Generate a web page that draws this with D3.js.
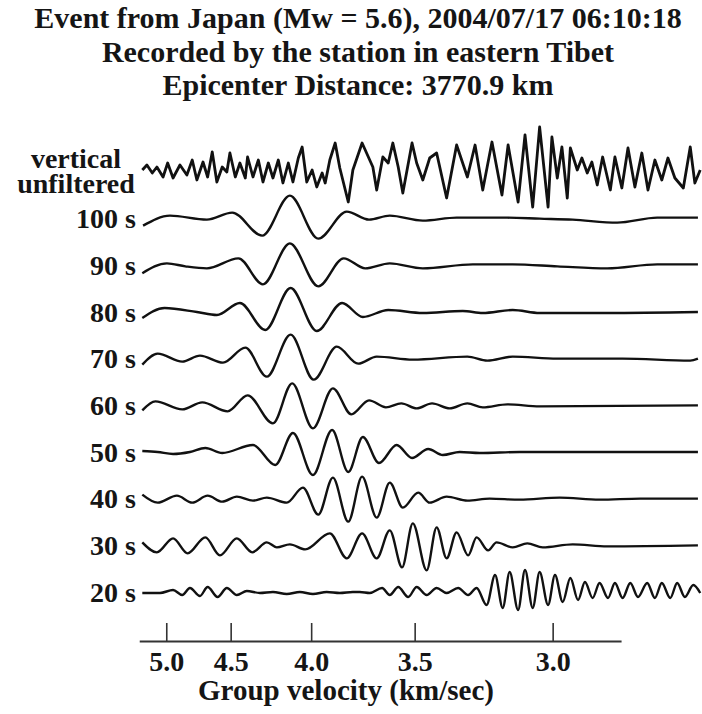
<!DOCTYPE html>
<html>
<head>
<meta charset="utf-8">
<script src="https://cdn.jsdelivr.net/npm/d3@7"></script>
<style>
  body { margin: 0; background: #fff; }
  svg text { font-family: "Liberation Serif", "Times New Roman", serif; font-weight: bold; fill: #151515; }
</style>
</head>
<body>
<div id="chart"></div>
<script>
// title + axis info
const titleLines = [
  "Event from Japan (Mw = 5.6), 2004/07/17 06:10:18",
  "Recorded by the station in eastern Tibet",
  "Epicenter Distance: 3770.9 km"
];
const distanceKm = 3770.9;
const velocityTicks = [5.0, 4.5, 4.0, 3.5, 3.0];
const axisTitle = "Group velocity (km/sec)";

// one label per trace, top to bottom
const traceLabels = [["vertical", "unfiltered"], "100 s", "90 s", "80 s", "70 s", "60 s", "50 s", "40 s", "30 s", "20 s"];

// [time after origin (s), relative amplitude]
const unfiltered = [[723,2],[729,7],[736,-1],[742,5],[750,-5],[756,9],[763,-6],[772,7],[781,-3],[788,12],[794,-8],[802,10],[808,-5],[814,20],[820,-10],[827,5],[833,0],[837,19],[844,-5],[850,9],[857,-6],[860,15],[867,-5],[874,12],[880,-10],[887,9],[893,-6],[900,12],[906,-11],[913,9],[919,-10],[926,14],[931,25],[937,-10],[944,2],[950,-15],[957,-1],[961,-11],[967,12],[974,29],[980,4],[991,-30],[997,2],[1009,29],[1023,5],[1028,-18],[1036,15],[1043,9],[1049,29],[1056,5],[1062,-21],[1074,29],[1080,9],[1088,-8],[1097,14],[1106,19],[1119,-26],[1132,27],[1146,-5],[1156,27],[1166,-18],[1178,30],[1191,-23],[1199,27],[1212,-30],[1221,37],[1231,-35],[1240,45],[1251,-35],[1256,35],[1263,-6],[1269,25],[1276,-26],[1280,24],[1289,2],[1295,14],[1302,-1],[1308,10],[1315,-13],[1322,15],[1332,-18],[1338,15],[1347,-16],[1355,24],[1364,-15],[1373,19],[1381,-18],[1390,12],[1399,-8],[1407,14],[1416,-6],[1427,-16],[1436,25],[1442,-11],[1449,2]];
const wave100 = [[724,-7],[759,3],[807,-1],[840,6],[879,-17],[915,23],[952,-20],[989,7],[1018,-1],[1045,3],[1088,-2],[1132,1],[1198,1],[1240,0],[1283,-1],[1341,-4],[1393,1],[1446,1]];
const wave90 = [[723,-8],[755,2],[779,-1],[807,-3],[848,7],[880,-19],[915,22],[952,-21],[985,7],[1013,-3],[1045,2],[1088,-3],[1153,1],[1205,1],[1263,-1],[1328,-3],[1393,1],[1446,1]];
const wave80 = [[723,-6],[752,4],[794,0],[820,-3],[850,9],[883,-18],[916,24],[950,-19],[983,9],[1010,-5],[1043,2],[1088,-1],[1140,1],[1166,-1],[1205,2],[1240,-1],[1328,-1],[1446,0]];
const wave70 = [[723,-6],[743,5],[775,-3],[798,3],[828,-4],[857,11],[885,-18],[916,24],[946,-21],[976,12],[1004,-5],[1028,2],[1075,-1],[1146,2],[1172,-2],[1205,2],[1263,0],[1348,0],[1436,-2],[1446,0]];
const wave60 = [[723,-5],[740,4],[775,-4],[801,3],[834,-6],[860,10],[893,-18],[918,22],[945,-23],[971,17],[995,-9],[1018,5],[1040,-2],[1060,2],[1080,-3],[1100,2],[1123,-3],[1146,2],[1166,-2],[1198,1],[1240,-1],[1446,0]];
const wave50 = [[723,1],[743,0],[763,-2],[785,0],[805,4],[827,-1],[867,7],[896,-13],[919,19],[945,-23],[970,22],[991,-20],[1010,15],[1031,-11],[1054,7],[1074,-6],[1095,3],[1114,-3],[1136,0],[1162,-1],[1214,0],[1283,0],[1446,0]];
const wave40 = [[723,4],[743,-4],[768,3],[788,-4],[808,3],[827,-3],[846,2],[867,-2],[885,1],[911,-4],[932,11],[952,-16],[971,21],[991,-23],[1009,22],[1028,-19],[1045,16],[1062,-9],[1082,6],[1097,-4],[1119,2],[1146,-2],[1175,0],[1214,-1],[1266,1],[1318,-1],[1371,0],[1446,0]];
const wave30 = [[723,3],[742,-7],[763,7],[782,-8],[805,8],[824,-10],[846,7],[866,-7],[885,3],[898,-2],[915,1],[935,-4],[967,12],[989,-13],[1009,12],[1028,-13],[1045,15],[1061,-22],[1075,22],[1093,-25],[1106,18],[1119,-13],[1132,13],[1147,-10],[1158,8],[1173,-5],[1184,3],[1205,-2],[1224,2],[1244,-2],[1283,1],[1328,-1],[1446,0]];
const wave20 = [[723,-1],[746,-1],[763,2],[775,-3],[785,4],[798,-4],[808,5],[821,-5],[833,4],[846,-3],[859,1],[876,-1],[893,0],[911,-2],[928,0],[945,-2],[963,0],[980,-1],[997,0],[1006,0],[1019,-1],[1035,4],[1045,-3],[1056,5],[1069,-5],[1080,5],[1093,-3],[1106,4],[1119,-1],[1134,4],[1147,-3],[1158,4],[1171,-13],[1182,17],[1192,-16],[1201,20],[1212,-18],[1221,22],[1231,-16],[1240,20],[1251,-13],[1260,17],[1270,-10],[1280,14],[1290,-8],[1299,10],[1309,-6],[1318,9],[1329,-6],[1338,9],[1348,-6],[1358,9],[1368,-5],[1380,9],[1390,-6],[1399,9],[1410,-6],[1419,9],[1429,-5],[1440,7],[1449,-1]];

const traces = [unfiltered, wave100, wave90, wave80, wave70, wave60, wave50, wave40, wave30, wave20];

const width = 702, height = 714;

const svg = d3.select("#chart").append("svg")
  .attr("width", width)
  .attr("height", height);

svg.append("rect").attr("width", width).attr("height", height).attr("fill", "#fff");

// time (s) -> x, traces are plotted against travel time so velocity ticks are 1/v spaced
const x = d3.scaleLinear().domain([720, 1450]).range([140, 701]);
// trace index -> baseline
const row = d3.scaleLinear().domain([0, traces.length - 1]).range([172, 592]);
// amplitude -> pixel offset
const amp = d3.scaleLinear().domain([-30, 30]).range([30, -30]);

// title
svg.selectAll(".title")
  .data(titleLines)
  .enter()
  .append("text")
  .attr("class", "title")
  .attr("x", 358)
  .attr("y", (d, i) => 28 + i * 33.5)
  .attr("text-anchor", "middle")
  .attr("font-size", "30px")
  .text(d => d);

// traces
traces.forEach((data, i) => {
  const line = d3.line()
    .x(d => x(d[0]))
    .y(d => row(i) + amp(d[1]))
    .curve(i === 0 ? d3.curveLinear : d3.curveMonotoneX);

  svg.append("path")
    .datum(data)
    .attr("d", line)
    .attr("fill", "none")
    .attr("stroke", "#111")
    .attr("stroke-width", i === 0 ? 2.8 : 2.4)
    .attr("stroke-linejoin", "round");
});

// labels on the left
traceLabels.forEach((lab, i) => {
  if (Array.isArray(lab)) {
    lab.forEach((s, j) => {
      svg.append("text")
        .attr("x", 76)
        .attr("y", row(i) - 14 + j * 25)
        .attr("dy", "0.35em")
        .attr("text-anchor", "middle")
        .attr("font-size", "28px")
        .text(s);
    });
  } else {
    svg.append("text")
      .attr("x", 136)
      .attr("y", row(i))
      .attr("dy", "0.35em")
      .attr("text-anchor", "end")
      .attr("font-size", "28px")
      .text(lab);
  }
});

// velocity axis
const axisScale = d3.scaleLinear().domain([719, 1346]).range([x(719), x(1346)]);
const axis = d3.axisBottom(axisScale)
  .tickValues(velocityTicks.map(v => distanceKm / v))
  .tickFormat((d, i) => velocityTicks[i].toFixed(1))
  .tickSizeInner(-18)
  .tickSizeOuter(0)
  .tickPadding(10);

const gAxis = svg.append("g")
  .attr("transform", "translate(0,641)")
  .call(axis);

gAxis.select(".domain").attr("stroke", "#333").attr("stroke-width", 2);
gAxis.selectAll(".tick line").attr("stroke", "#333").attr("stroke-width", 1.6);
gAxis.selectAll(".tick text")
  .attr("font-size", "28px")
  .attr("font-family", "Liberation Serif, serif")
  .attr("font-weight", "bold")
  .attr("fill", "#151515");

svg.append("text")
  .attr("x", 346)
  .attr("y", 700)
  .attr("text-anchor", "middle")
  .attr("font-size", "29px")
  .text(axisTitle);
</script>
</body>
</html>
